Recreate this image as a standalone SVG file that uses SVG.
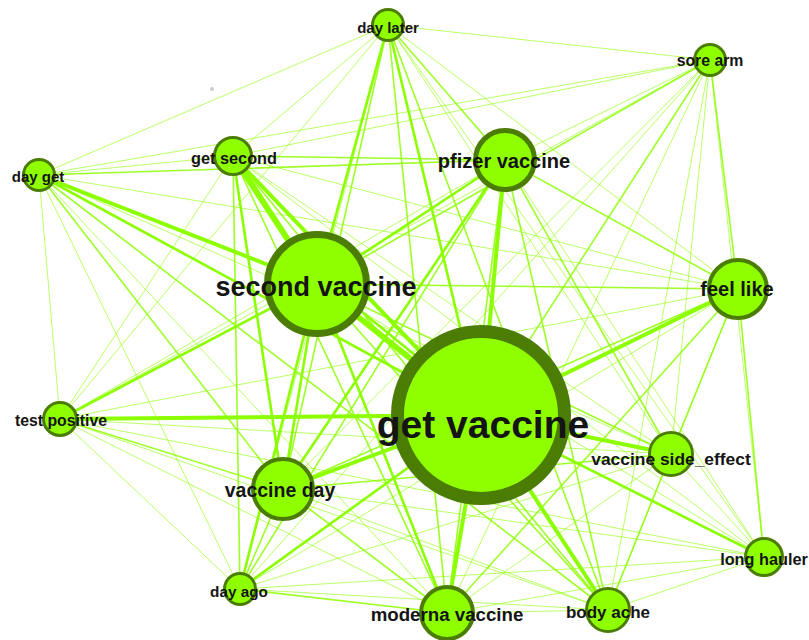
<svg xmlns="http://www.w3.org/2000/svg" width="809" height="640" viewBox="0 0 809 640">
  <style>
    .e1 { stroke: #8cff00; stroke-width: 1; stroke-opacity: 0.6; }
    .e2 { stroke: #8cff00; stroke-width: 1.6; stroke-opacity: 0.85; }
    .e3 { stroke: #8cff00; stroke-width: 2.6; }
    .e4 { stroke: #8cff00; stroke-width: 4; }
    .e5 { stroke: #8cff00; stroke-width: 6; }
    .node { fill: #8fff00; stroke: #4b7d05; }
    .lbl { font-family: "Liberation Sans", Arial, sans-serif; font-weight: bold; fill: #141414; text-anchor: middle; }
  </style>
  <rect width="809" height="640" fill="#ffffff"/>
  <circle cx="212" cy="89" r="2" fill="#cccccc"/>

  <g id="edges" stroke-linecap="round">
    <!-- get vaccine -->
    <line class="e5" x1="481" y1="415" x2="317" y2="284"/>
    <line class="e3" x1="481" y1="409" x2="323" y2="280"/>
    <line class="e4" x1="481" y1="415" x2="505" y2="160"/>
    <line class="e4" x1="481" y1="415" x2="738" y2="289"/>
    <line class="e4" x1="481" y1="415" x2="283" y2="489"/>
    <line class="e4" x1="481" y1="415" x2="671" y2="454"/>
    <line class="e4" x1="481" y1="415" x2="447" y2="613"/>
    <line class="e4" x1="481" y1="415" x2="608" y2="610"/>
    <line class="e3" x1="481" y1="415" x2="764" y2="557"/>
    <line class="e3" x1="481" y1="415" x2="240" y2="589"/>
    <line class="e4" x1="481" y1="415" x2="60" y2="419"/>
    <line class="e3" x1="481" y1="415" x2="39" y2="175"/>
    <line class="e4" x1="481" y1="415" x2="233" y2="156"/>
    <line class="e3" x1="481" y1="415" x2="388" y2="25"/>
    <line class="e2" x1="481" y1="415" x2="710" y2="60"/>
    <!-- second vaccine -->
    <line class="e3" x1="317" y1="284" x2="505" y2="160"/>
    <line class="e2" x1="317" y1="284" x2="738" y2="289"/>
    <line class="e3" x1="317" y1="284" x2="283" y2="489"/>
    <line class="e2" x1="317" y1="284" x2="671" y2="454"/>
    <line class="e3" x1="317" y1="284" x2="447" y2="613"/>
    <line class="e2" x1="317" y1="284" x2="608" y2="610"/>
    <line class="e1" x1="317" y1="284" x2="764" y2="557"/>
    <line class="e3" x1="317" y1="284" x2="240" y2="589"/>
    <line class="e3" x1="317" y1="284" x2="60" y2="419"/>
    <line class="e4" x1="317" y1="284" x2="39" y2="175"/>
    <line class="e5" x1="317" y1="284" x2="233" y2="156"/>
    <line class="e3" x1="317" y1="284" x2="388" y2="25"/>
    <line class="e2" x1="317" y1="284" x2="710" y2="60"/>
    <!-- pfizer vaccine -->
    <line class="e2" x1="505" y1="160" x2="738" y2="289"/>
    <line class="e3" x1="505" y1="160" x2="283" y2="489"/>
    <line class="e2" x1="505" y1="160" x2="671" y2="454"/>
    <line class="e2" x1="505" y1="160" x2="447" y2="613"/>
    <line class="e2" x1="505" y1="160" x2="608" y2="610"/>
    <line class="e1" x1="505" y1="160" x2="764" y2="557"/>
    <line class="e2" x1="505" y1="160" x2="240" y2="589"/>
    <line class="e1" x1="505" y1="160" x2="60" y2="419"/>
    <line class="e2" x1="505" y1="160" x2="39" y2="175"/>
    <line class="e2" x1="505" y1="160" x2="233" y2="156"/>
    <line class="e2" x1="505" y1="160" x2="388" y2="25"/>
    <line class="e1" x1="505" y1="160" x2="710" y2="60"/>
    <!-- feel like -->
    <line class="e2" x1="738" y1="289" x2="283" y2="489"/>
    <line class="e2" x1="738" y1="289" x2="671" y2="454"/>
    <line class="e2" x1="738" y1="289" x2="447" y2="613"/>
    <line class="e1" x1="738" y1="289" x2="608" y2="610"/>
    <line class="e2" x1="738" y1="289" x2="764" y2="557"/>
    <line class="e1" x1="738" y1="289" x2="240" y2="589"/>
    <line class="e1" x1="738" y1="289" x2="60" y2="419"/>
    <line class="e1" x1="738" y1="289" x2="39" y2="175"/>
    <line class="e1" x1="738" y1="289" x2="233" y2="156"/>
    <line class="e1" x1="738" y1="289" x2="388" y2="25"/>
    <line class="e2" x1="738" y1="289" x2="710" y2="60"/>
    <!-- vaccine day -->
    <line class="e2" x1="283" y1="489" x2="671" y2="454"/>
    <line class="e2" x1="283" y1="489" x2="447" y2="613"/>
    <line class="e1" x1="283" y1="489" x2="608" y2="610"/>
    <line class="e1" x1="283" y1="489" x2="764" y2="557"/>
    <line class="e2" x1="283" y1="489" x2="240" y2="589"/>
    <line class="e2" x1="283" y1="489" x2="60" y2="419"/>
    <line class="e2" x1="283" y1="489" x2="39" y2="175"/>
    <line class="e3" x1="283" y1="489" x2="233" y2="156"/>
    <line class="e2" x1="283" y1="489" x2="388" y2="25"/>
    <line class="e1" x1="283" y1="489" x2="710" y2="60"/>
    <!-- vaccine side_effect -->
    <line class="e1" x1="671" y1="454" x2="447" y2="613"/>
    <line class="e2" x1="671" y1="454" x2="608" y2="610"/>
    <line class="e1" x1="671" y1="454" x2="764" y2="557"/>
    <line class="e1" x1="671" y1="454" x2="240" y2="589"/>
    <line class="e1" x1="671" y1="454" x2="60" y2="419"/>
    <line class="e1" x1="671" y1="454" x2="39" y2="175"/>
    <line class="e1" x1="671" y1="454" x2="233" y2="156"/>
    <line class="e1" x1="671" y1="454" x2="388" y2="25"/>
    <line class="e1" x1="671" y1="454" x2="710" y2="60"/>
    <!-- moderna vaccine -->
    <line class="e1" x1="447" y1="613" x2="608" y2="610"/>
    <line class="e1" x1="447" y1="613" x2="764" y2="557"/>
    <line class="e2" x1="447" y1="613" x2="240" y2="589"/>
    <line class="e1" x1="447" y1="613" x2="60" y2="419"/>
    <line class="e1" x1="447" y1="613" x2="39" y2="175"/>
    <line class="e2" x1="447" y1="613" x2="233" y2="156"/>
    <line class="e2" x1="447" y1="613" x2="388" y2="25"/>
    <line class="e1" x1="447" y1="613" x2="710" y2="60"/>
    <!-- body ache -->
    <line class="e1" x1="608" y1="610" x2="764" y2="557"/>
    <line class="e1" x1="608" y1="610" x2="240" y2="589"/>
    <line class="e1" x1="608" y1="610" x2="60" y2="419"/>
    <line class="e2" x1="608" y1="610" x2="39" y2="175"/>
    <line class="e2" x1="608" y1="610" x2="233" y2="156"/>
    <line class="e2" x1="608" y1="610" x2="388" y2="25"/>
    <line class="e1" x1="608" y1="610" x2="710" y2="60"/>
    <!-- long hauler -->
    <line class="e1" x1="764" y1="557" x2="240" y2="589"/>
    <line class="e1" x1="764" y1="557" x2="60" y2="419"/>
    <line class="e1" x1="764" y1="557" x2="233" y2="156"/>
    <line class="e1" x1="764" y1="557" x2="388" y2="25"/>
    <line class="e1" x1="764" y1="557" x2="710" y2="60"/>
    <!-- day ago -->
    <line class="e1" x1="240" y1="589" x2="60" y2="419"/>
    <line class="e1" x1="240" y1="589" x2="39" y2="175"/>
    <line class="e2" x1="240" y1="589" x2="233" y2="156"/>
    <line class="e1" x1="240" y1="589" x2="388" y2="25"/>
    <line class="e1" x1="240" y1="589" x2="710" y2="60"/>
    <!-- test positive -->
    <line class="e1" x1="60" y1="419" x2="39" y2="175"/>
    <line class="e1" x1="60" y1="419" x2="233" y2="156"/>
    <line class="e1" x1="60" y1="419" x2="388" y2="25"/>
    <line class="e1" x1="60" y1="419" x2="710" y2="60"/>
    <!-- day get -->
    <line class="e1" x1="39" y1="175" x2="233" y2="156"/>
    <line class="e1" x1="39" y1="175" x2="388" y2="25"/>
    <line class="e1" x1="39" y1="175" x2="710" y2="60"/>
    <!-- get second / day later -->
    <line class="e1" x1="233" y1="156" x2="388" y2="25"/>
    <line class="e1" x1="233" y1="156" x2="710" y2="60"/>
    <line class="e1" x1="388" y1="25" x2="710" y2="60"/>
  </g>

  <g id="n-get-vaccine">
    <circle class="node" cx="481" cy="415" r="83.5" stroke-width="13"/>
    <text class="lbl" x="483" y="438" font-size="39">get vaccine</text>
  </g>
  <g id="n-second-vaccine">
    <circle class="node" cx="317" cy="284" r="49.5" stroke-width="7"/>
    <text class="lbl" x="316" y="296" font-size="27">second vaccine</text>
  </g>
  <g id="n-pfizer-vaccine">
    <circle class="node" cx="505" cy="160" r="29.5" stroke-width="5"/>
    <text class="lbl" x="504" y="168" font-size="20">pfizer vaccine</text>
  </g>
  <g id="n-feel-like">
    <circle class="node" cx="738" cy="289" r="29" stroke-width="4"/>
    <text class="lbl" x="737" y="296" font-size="20">feel like</text>
  </g>
  <g id="n-vaccine-day">
    <circle class="node" cx="283" cy="489" r="30" stroke-width="4"/>
    <text class="lbl" x="280" y="497" font-size="19.5">vaccine day</text>
  </g>
  <g id="n-vaccine-side-effect">
    <circle class="node" cx="671" cy="454" r="21.5" stroke-width="3"/>
    <text class="lbl" x="671" y="465" font-size="17.4">vaccine side_effect</text>
  </g>
  <g id="n-moderna-vaccine">
    <circle class="node" cx="447" cy="613" r="26" stroke-width="4"/>
    <text class="lbl" x="447" y="621" font-size="18.7">moderna vaccine</text>
  </g>
  <g id="n-body-ache">
    <circle class="node" cx="608" cy="610" r="21.5" stroke-width="3"/>
    <text class="lbl" x="608" y="618" font-size="17">body ache</text>
  </g>
  <g id="n-long-hauler">
    <circle class="node" cx="764" cy="557" r="18.5" stroke-width="3"/>
    <text class="lbl" x="764" y="565" font-size="16.3">long hauler</text>
  </g>
  <g id="n-day-ago">
    <circle class="node" cx="240" cy="589" r="15.5" stroke-width="3"/>
    <text class="lbl" x="239" y="597" font-size="15.3">day ago</text>
  </g>
  <g id="n-test-positive">
    <circle class="node" cx="60" cy="419" r="16.5" stroke-width="3"/>
    <text class="lbl" x="61" y="426" font-size="15.8">test positive</text>
  </g>
  <g id="n-day-get">
    <circle class="node" cx="39" cy="175" r="15.5" stroke-width="3"/>
    <text class="lbl" x="38" y="182" font-size="15">day get</text>
  </g>
  <g id="n-get-second">
    <circle class="node" cx="233" cy="156" r="18.5" stroke-width="3"/>
    <text class="lbl" x="234" y="164" font-size="16.3">get second</text>
  </g>
  <g id="n-day-later">
    <circle class="node" cx="388" cy="25" r="15.5" stroke-width="3"/>
    <text class="lbl" x="388" y="33" font-size="15">day later</text>
  </g>
  <g id="n-sore-arm">
    <circle class="node" cx="710" cy="60" r="15.5" stroke-width="3"/>
    <text class="lbl" x="710" y="66" font-size="15.8">sore arm</text>
  </g>
</svg>
